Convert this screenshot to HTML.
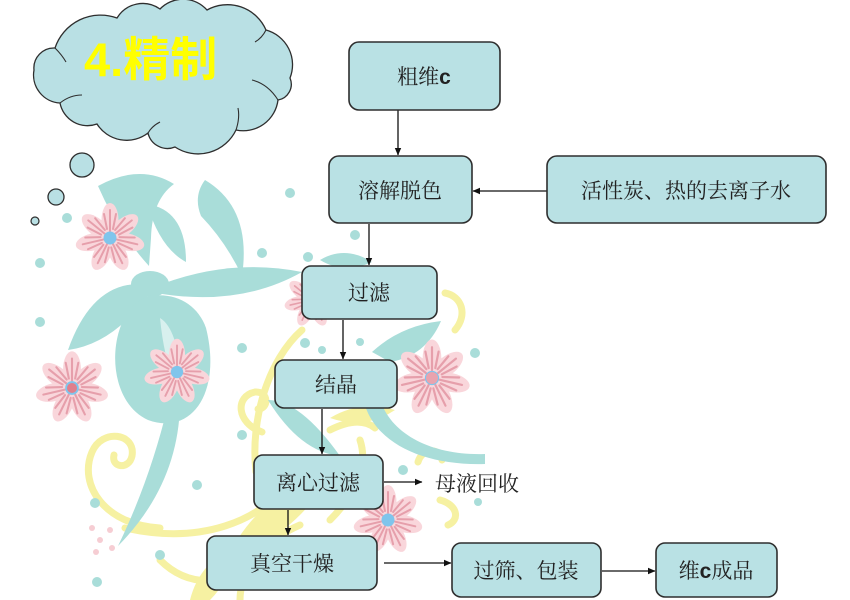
<!DOCTYPE html>
<html><head><meta charset="utf-8"><style>
html,body{margin:0;padding:0;background:#fff;}
svg{display:block;}
.bx{fill:#b9e1e4;stroke:#2e2e2e;stroke-width:1.6;}
.lb{font-family:"Liberation Serif","Noto Serif CJK SC",serif;font-size:21px;fill:#222;}
.ln{stroke:#111;stroke-width:1.3;fill:none;}
</style></head><body>
<svg width="850" height="600" viewBox="0 0 850 600" xmlns="http://www.w3.org/2000/svg">
<defs>
<marker id="ar" markerWidth="8" markerHeight="8" refX="7" refY="4" orient="auto" markerUnits="userSpaceOnUse">
<path d="M0,0.8 L7.5,4 L0,7.2 Z" fill="#111"/>
</marker>
<g id="fl">
<g fill="#f9d6db">
<ellipse cx="0" cy="-18" rx="8.5" ry="17"/>
<ellipse cx="0" cy="-18" rx="8.5" ry="17" transform="rotate(51)"/>
<ellipse cx="0" cy="-18" rx="8.5" ry="17" transform="rotate(103)"/>
<ellipse cx="0" cy="-18" rx="8.5" ry="17" transform="rotate(154)"/>
<ellipse cx="0" cy="-18" rx="8.5" ry="17" transform="rotate(206)"/>
<ellipse cx="0" cy="-18" rx="8.5" ry="17" transform="rotate(257)"/>
<ellipse cx="0" cy="-18" rx="8.5" ry="17" transform="rotate(309)"/>
</g>
<g stroke="#e69fab" stroke-width="2" fill="none" stroke-linecap="round">
<path d="M0,-7 L0,-28 M-3,-9 L-6,-24 M3,-9 L6,-24"/>
<path d="M0,-7 L0,-28 M-3,-9 L-6,-24 M3,-9 L6,-24" transform="rotate(51)"/>
<path d="M0,-7 L0,-28 M-3,-9 L-6,-24 M3,-9 L6,-24" transform="rotate(103)"/>
<path d="M0,-7 L0,-28 M-3,-9 L-6,-24 M3,-9 L6,-24" transform="rotate(154)"/>
<path d="M0,-7 L0,-28 M-3,-9 L-6,-24 M3,-9 L6,-24" transform="rotate(206)"/>
<path d="M0,-7 L0,-28 M-3,-9 L-6,-24 M3,-9 L6,-24" transform="rotate(257)"/>
<path d="M0,-7 L0,-28 M-3,-9 L-6,-24 M3,-9 L6,-24" transform="rotate(309)"/>
</g>
<circle r="6.5" fill="#7fc5ec"/>
</g>
</defs>
<rect width="850" height="600" fill="#fff"/>

<!-- yellow swirls -->
<g stroke="#f6f1a2" stroke-width="7" fill="none" stroke-linecap="round">
<path d="M160,528 C105,525 78,485 92,452 C102,428 136,433 132,456 C129,470 111,468 114,455"/>
<path d="M125,528 C200,545 262,522 292,478"/>
<path d="M262,432 C236,423 235,396 255,392 C269,391 269,409 258,409"/>
<path d="M256,472 C250,420 268,360 302,330"/>
<path d="M240,600 C240,570 265,540 300,525"/>
<path d="M330,520 C350,500 370,470 360,440"/>
<path d="M445,293 C462,296 468,315 455,330"/>
<path d="M418,462 C422,448 440,447 442,460"/>
<path d="M440,500 C458,505 460,520 448,525"/>
<path d="M160,560 C190,590 230,585 260,560"/>
<path d="M330,430 C350,420 365,420 375,428"/>
</g>
<g fill="#f6f1a2">
<path d="M225,562 Q258,492 332,470 Q302,532 225,562 Z"/>
<path d="M190,600 Q200,560 240,545 Q230,580 210,600 Z"/>
<path d="M330,418 Q360,400 395,410 Q365,430 330,418 Z"/>
</g>

<!-- teal shapes -->
<g fill="#a9ddd9">
<path d="M98,186 Q140,163 174,184 Q152,200 151,238 L149,266 Q118,232 98,186 Z"/>
<path d="M205,180 Q252,208 242,276 Q226,242 201,216 Q193,196 205,180 Z"/>
<path d="M147,204 Q186,210 186,262 Q160,248 147,204 Z"/>
<ellipse cx="150" cy="284" rx="19" ry="13"/>
<path d="M142,284 Q92,282 68,350 Q112,344 148,296 Z"/>
<path d="M162,284 Q232,258 302,272 Q242,306 162,294 Z"/>
<path d="M150,296 C108,306 100,398 148,420 C192,436 222,392 206,328 C198,305 176,292 150,296 Z"/>
<path d="M180,405 Q178,485 118,546 Q150,480 168,405 Z"/>
<path d="M372,352 Q400,326 441,321 Q426,356 390,362 Z"/>
<path d="M362,390 C366,440 420,466 485,464 L485,454 C430,456 384,432 378,390 Z"/>
<path d="M268,400 Q300,400 340,456 Q300,452 268,400 Z"/>
<path d="M320,260 Q345,245 372,262 Q345,275 320,260 Z"/>
</g>
<path d="M160,318 Q180,330 182,395 Q165,370 160,318 Z" fill="#ffffff" opacity="0.55"/>
<g fill="#a9ddd9">
<circle cx="67" cy="218" r="5"/><circle cx="40" cy="263" r="5"/><circle cx="40" cy="322" r="5"/>
<circle cx="290" cy="193" r="5"/><circle cx="262" cy="253" r="5"/><circle cx="308" cy="257" r="5"/>
<circle cx="242" cy="348" r="5"/><circle cx="242" cy="435" r="5"/><circle cx="197" cy="485" r="5"/>
<circle cx="95" cy="503" r="5"/><circle cx="160" cy="555" r="5"/><circle cx="97" cy="582" r="5"/>
<circle cx="305" cy="343" r="5"/><circle cx="322" cy="350" r="4"/><circle cx="360" cy="342" r="4"/>
<circle cx="475" cy="353" r="5"/><circle cx="403" cy="470" r="5"/><circle cx="355" cy="235" r="5"/>
<circle cx="478" cy="502" r="4"/><circle cx="280" cy="460" r="4"/>
</g>
<g fill="#f6cdd3">
<circle cx="92" cy="528" r="3"/><circle cx="100" cy="540" r="3"/><circle cx="110" cy="530" r="3"/>
<circle cx="96" cy="552" r="3"/><circle cx="112" cy="548" r="3"/><circle cx="282" cy="470" r="3"/><circle cx="285" cy="482" r="3"/>
</g>

<!-- flowers -->
<use href="#fl" transform="translate(110,238)"/>
<use href="#fl" transform="translate(177,372) scale(0.95)"/>
<use href="#fl" transform="translate(72,388) scale(1.05)"/>
<use href="#fl" transform="translate(432,378) scale(1.1)"/>
<use href="#fl" transform="translate(388,520) scale(1)"/>
<use href="#fl" transform="translate(312,300) scale(0.8)"/>
<circle cx="72" cy="388" r="5" fill="#e07f8c"/>
<circle cx="432" cy="378" r="6" fill="#e9a3ae"/>

<!-- cloud -->
<path d="M34,70 A20,20 0 0 1 55,48 A48,48 0 0 1 117,18 A30,30 0 0 1 160,9 A32,32 0 0 1 207,10 A42,42 0 0 1 266,30 A36,36 0 0 1 290,78 A16,16 0 0 1 278,100 A35,35 0 0 1 236,130 A42,42 0 0 1 175,147 A20,20 0 0 1 148,133 A35,35 0 0 1 97,124 A28,28 0 0 1 60,103 A28,28 0 0 1 34,70 Z" fill="#b9e0e4" stroke="#2e2e2e" stroke-width="1.3"/>
<g stroke="#2e2e2e" stroke-width="1.1" fill="none">
<path d="M55,48 Q62,55 66,62"/>
<path d="M60,103 Q70,95 82,95"/>
<path d="M236,130 Q240,118 238,108"/>
<path d="M266,30 Q262,38 255,42"/>
<path d="M278,100 Q268,84 252,80"/>
<path d="M148,133 Q152,126 160,122"/>
</g>
<circle cx="82" cy="165" r="12" fill="#b9e0e4" stroke="#2e2e2e" stroke-width="1.3"/>
<circle cx="56" cy="197" r="8" fill="#b9e0e4" stroke="#2e2e2e" stroke-width="1.3"/>
<circle cx="35" cy="221" r="4" fill="#b9e0e4" stroke="#2e2e2e" stroke-width="1.2"/>
<text x="84" y="76" font-family="Liberation Sans, Noto Sans CJK SC, sans-serif" font-size="47" font-weight="bold" fill="#ffff00">4.精制</text>

<!-- connectors -->
<line class="ln" x1="398" y1="110" x2="398" y2="155" marker-end="url(#ar)"/>
<line class="ln" x1="547" y1="191" x2="473" y2="191" marker-end="url(#ar)"/>
<line class="ln" x1="369" y1="224" x2="369" y2="265" marker-end="url(#ar)"/>
<line class="ln" x1="343" y1="320" x2="343" y2="359" marker-end="url(#ar)"/>
<line class="ln" x1="322" y1="409" x2="322" y2="454" marker-end="url(#ar)"/>
<line class="ln" x1="384" y1="482" x2="422" y2="482" marker-end="url(#ar)"/>
<line class="ln" x1="288" y1="510" x2="288" y2="535" marker-end="url(#ar)"/>
<line class="ln" x1="384" y1="563" x2="451" y2="563" marker-end="url(#ar)"/>
<line class="ln" x1="602" y1="571" x2="655" y2="571" marker-end="url(#ar)"/>

<!-- boxes -->
<rect class="bx" x="349" y="42" width="151" height="68" rx="10"/>
<rect class="bx" x="329" y="156" width="143" height="67" rx="10"/>
<rect class="bx" x="547" y="156" width="279" height="67" rx="10"/>
<rect class="bx" x="302" y="266" width="135" height="53" rx="9"/>
<rect class="bx" x="275" y="360" width="122" height="48" rx="9"/>
<rect class="bx" x="254" y="455" width="129" height="54" rx="9"/>
<rect class="bx" x="207" y="536" width="170" height="54" rx="9"/>
<rect class="bx" x="452" y="543" width="149" height="54" rx="9"/>
<rect class="bx" x="656" y="543" width="121" height="54" rx="9"/>

<!-- labels -->
<text class="lb" x="424" y="84" text-anchor="middle">粗维<tspan font-family="Liberation Sans, sans-serif" font-weight="bold">c</tspan></text>
<text class="lb" x="400" y="198" text-anchor="middle">溶解脱色</text>
<text class="lb" x="686" y="198" text-anchor="middle">活性炭、热的去离子水</text>
<text class="lb" x="369" y="300" text-anchor="middle">过滤</text>
<text class="lb" x="336" y="392" text-anchor="middle">结晶</text>
<text class="lb" x="318" y="490" text-anchor="middle">离心过滤</text>
<text class="lb" x="435" y="491">母液回收</text>
<text class="lb" x="292" y="571" text-anchor="middle">真空干燥</text>
<text class="lb" x="526" y="578" text-anchor="middle">过筛、包装</text>
<text class="lb" x="716" y="578" text-anchor="middle">维<tspan font-family="Liberation Sans, sans-serif" font-weight="bold">c</tspan>成品</text>
</svg>
</body></html>
